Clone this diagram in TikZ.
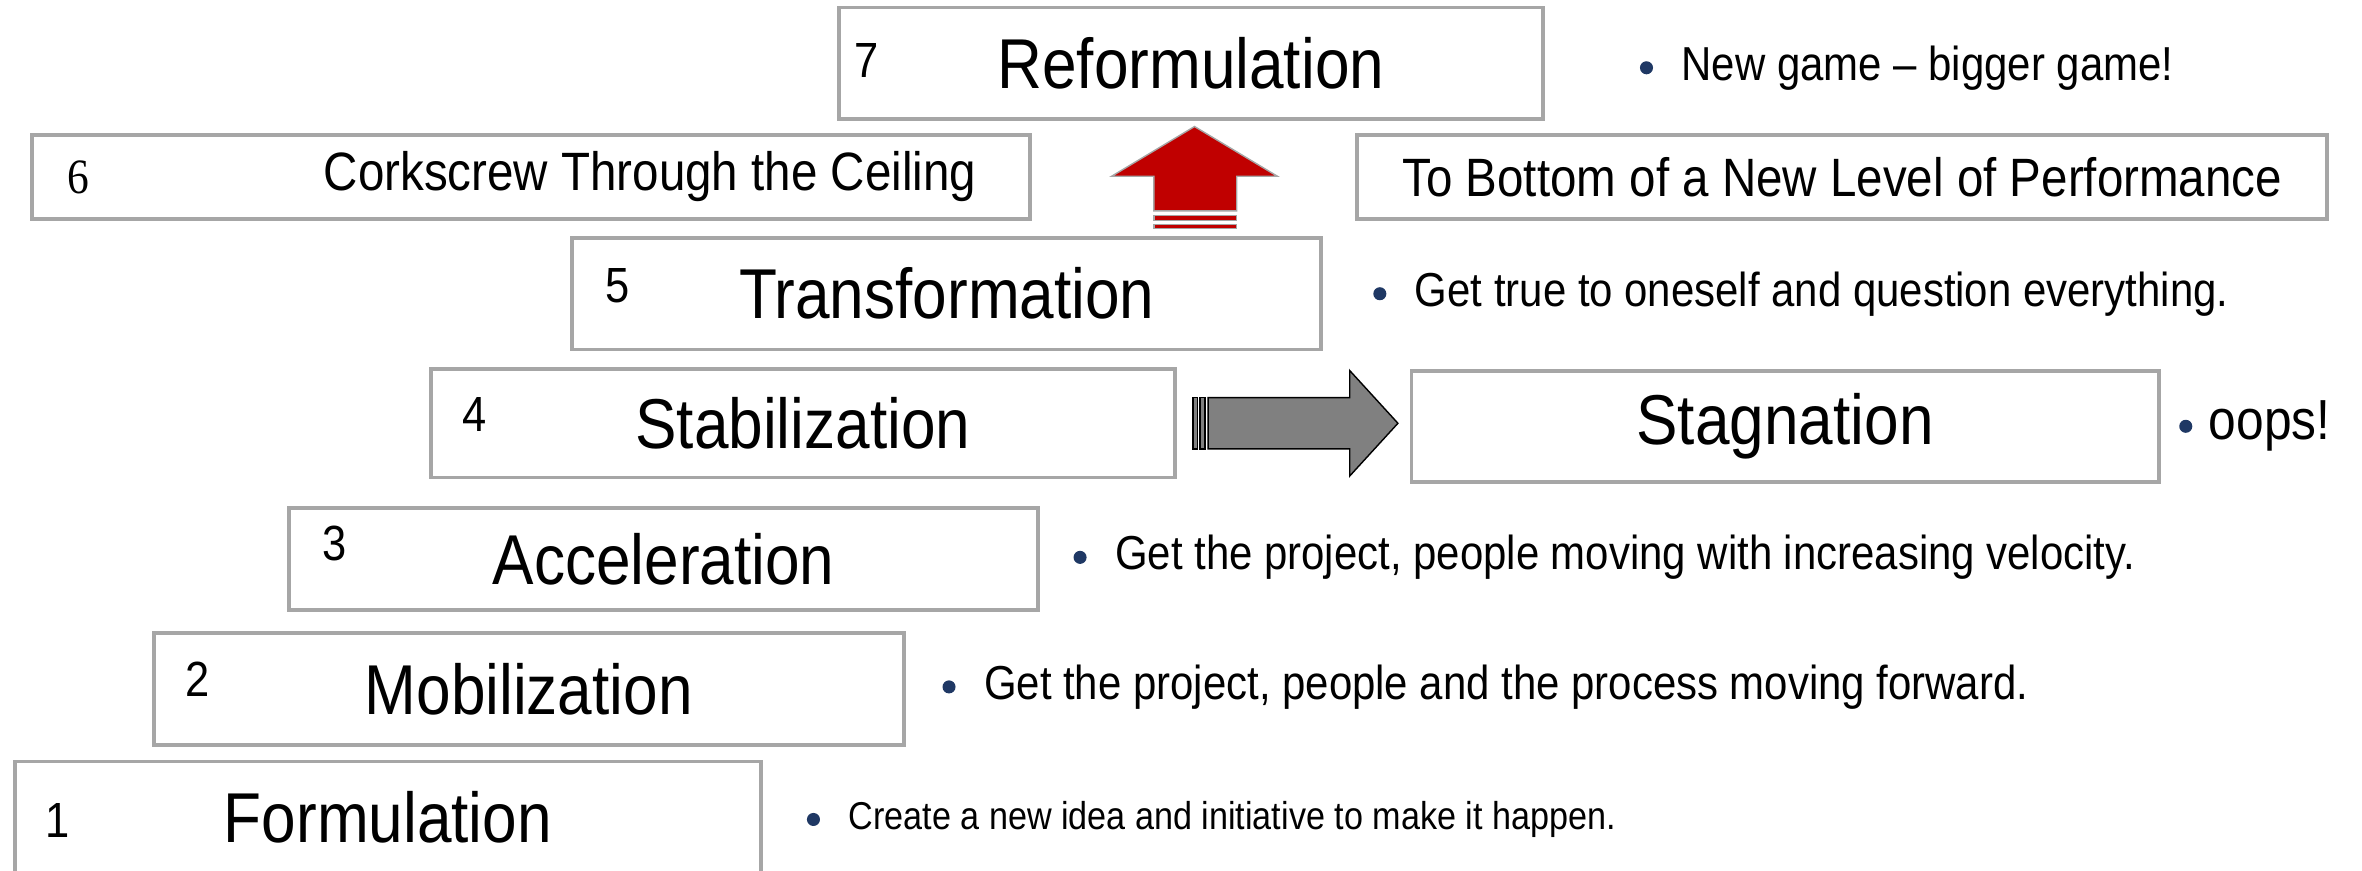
\documentclass[tikz,border=0pt]{standalone}
\usepackage{fontspec}
\setmainfont{Liberation Sans}[FakeStretch=0.88]
\newfontfamily\numserif{Liberation Serif}[FakeStretch=0.88]
\usetikzlibrary{positioning}
\definecolor{boxgray}{HTML}{A6A6A6}
\definecolor{arrowred}{HTML}{C00000}
\definecolor{arrowgray}{HTML}{808080}
\definecolor{navy}{HTML}{1F3864}

\begin{document}
\begin{tikzpicture}[x=0.015cm,y=-0.015cm,
  stage/.style={rectangle,draw=boxgray,line width=1.1pt,fill=white,inner sep=0pt,
                minimum height=1.11cm,font=\fontsize{20}{24}\selectfont},
  side/.style={rectangle,draw=boxgray,line width=1.1pt,fill=white,inner sep=0pt,
               minimum height=0.84cm,font=\fontsize{15.3}{18}\selectfont},
  num/.style={font=\fontsize{14}{16}\selectfont,inner sep=0pt},
  dot/.style={circle,fill=navy,inner sep=0pt,minimum size=0.13cm},
  note/.style={font=\fontsize{13.5}{16}\selectfont,inner sep=0pt}
]
\useasboundingbox (0,0) rectangle (1568,578);
\clip (0,0) rectangle (1568,578);

% ---- Stage 1: Formulation ------------------------------------
\node[stage,minimum width=7.425cm] (s1) at (257.5,542.5) {Formulation};
\node[num] (n1) at (38,545) {1};
\node[dot] (b1) at (540,544) {};
\node[note,font=\fontsize{11}{13}\selectfont,right=0.27cm of b1] (t1)
  {Create a new idea and initiative to make it happen.};

% ---- Stage 2: Mobilization -----------------------------------
\node[stage,minimum width=7.47cm] (s2) at (351,457.5) {Mobilization};
\node[num] (n2) at (131,451) {2};
\node[dot] (b2) at (630,456) {};
\node[note,right=0.27cm of b2] (t2) {Get the project, people and the process moving forward.};

% ---- Stage 3: Acceleration -----------------------------------
\node[stage,minimum width=7.455cm,minimum height=1.02cm] (s3) at (440.5,371) {Acceleration};
\node[num] (n3) at (222,361) {3};
\node[dot] (b3) at (717,370) {};
\node[note,right=0.27cm of b3] (t3) {Get the project, people moving with increasing velocity.};

% ---- Stage 4: Stabilization -> Stagnation --------------------
\node[stage,minimum width=7.41cm,minimum height=1.08cm] (s4) at (533,281) {Stabilization};
\node[num] (n4) at (315,275) {4};
\node[stage,minimum width=7.44cm] (sg) at (1185,283) {Stagnation};
\node[dot] (b4) at (1451,283) {};
\node[note,font=\fontsize{16}{18}\selectfont,right=0.15cm of b4] (t4) {oops!};

\filldraw[fill=arrowgray,draw=black,line width=0.4pt]
  (792,264) rectangle (795,298) (796.5,264) rectangle (800,298);
\filldraw[fill=arrowgray,draw=black,line width=0.4pt]
  (802,264) -- (896,264) -- (896,246) -- (928,281) -- (896,316) -- (896,298) -- (802,298) -- cycle;

% ---- Stage 5: Transformation ---------------------------------
\node[stage,minimum width=7.455cm] (s5) at (628.5,195) {Transformation};
\node[num] (n5) at (410,190) {5};
\node[dot] (b5) at (916,195) {};
\node[note,right=0.27cm of b5] (t5) {Get true to oneself and question everything.};

% ---- Stage 6: Corkscrew ---------------------------------------
\node[side,minimum width=9.945cm,text width=8.865cm,align=flush right] (s6) at (352.5,117.5)
  {Corkscrew Through the Ceiling};
\node[num,font=\numserif\fontsize{14}{16}\selectfont] (n6) at (52,118) {6};
\node[side,minimum width=9.66cm] (s6b) at (1223,117.5) {To Bottom of a New Level of Performance};

\filldraw[fill=arrowred,draw=boxgray,line width=0.4pt]
  (766,140) -- (766,117) -- (738,117) -- (793,84) -- (848,117) -- (821,117) -- (821,140) -- cycle;
\filldraw[fill=arrowred,draw=boxgray,line width=0.4pt]
  (766,143) rectangle (821,146.5) (766,149) rectangle (821,151.5);

% ---- Stage 7: Reformulation ----------------------------------
\node[stage,minimum width=7.005cm] (s7) at (790.5,42) {Reformulation};
\node[num] (n7) at (575,40) {7};
\node[dot] (b7) at (1093,45) {};
\node[note,right=0.27cm of b7] (t7) {New game -- bigger game!};

\end{tikzpicture}
\end{document}
